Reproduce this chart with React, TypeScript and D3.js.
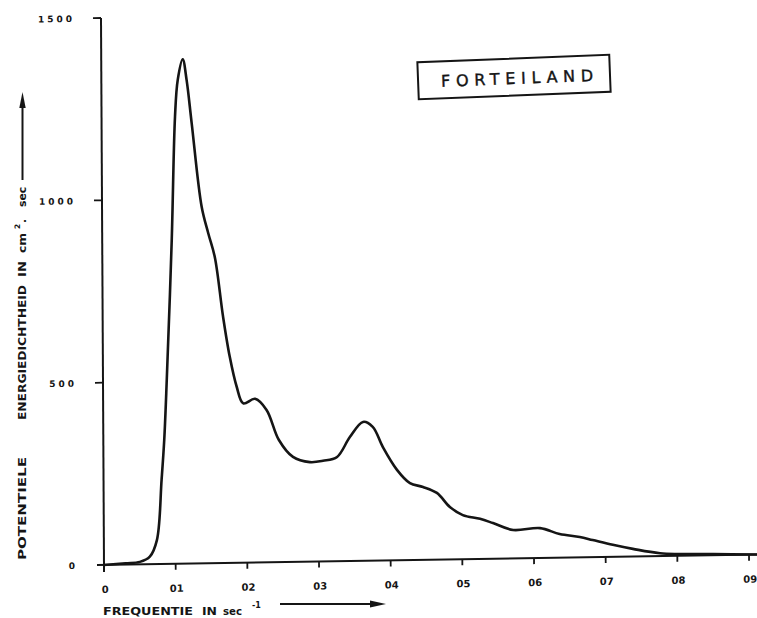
import React, { useEffect, useRef } from "react";
import * as d3 from "d3";

// spectrum: frequency (1/s) and potential energy density (cm2.s)
const freq = [
  0, 0.03, 0.05, 0.064, 0.074, 0.081, 0.085, 0.089, 0.097, 0.1025, 0.1066, 0.1137, 0.119,
  0.1257, 0.139, 0.148, 0.157, 0.168, 0.177, 0.1865, 0.1956, 0.212, 0.228, 0.245, 0.2645,
  0.288, 0.3064, 0.326, 0.344, 0.3625, 0.376, 0.39, 0.4095, 0.4275, 0.4457, 0.465,
  0.483, 0.501, 0.525, 0.543, 0.571, 0.6086, 0.636, 0.664, 0.682, 0.71, 0.738,
  0.776, 0.85, 0.915,
];
const energy = [
  0, 4, 7, 21, 66, 231, 340, 505, 888, 1226, 1327, 1383, 1326,
  1208, 978, 905, 839, 676, 566, 483, 437, 449, 418, 335, 288,
  273, 276, 286, 340, 381, 367, 311, 248, 211, 200, 183,
  144, 121, 110, 98, 78, 82, 65, 56, 47, 33, 21,
  8, 3, 0,
];

const xTickValues = [0, 0.1, 0.2, 0.3, 0.4, 0.5, 0.6, 0.7, 0.8, 0.9];
const xTickLabels = ["0", "01", "02", "03", "04", "05", "06", "07", "08", "09"];
const yTickValues = [0, 500, 1000, 1500];
const yTickLabels = ["0", "500", "1000", "1500"];
const stationName = "FORTEILAND";

const INK = "#151515";
const FONT = "'DejaVu Sans', sans-serif";

export default function App() {
  const ref = useRef<SVGSVGElement | null>(null);

  useEffect(() => {
    const svg = d3.select(ref.current);
    svg.selectAll("*").remove();

    const x = d3.scaleLinear().domain([0, 0.9]).range([0, 645]);
    const y = d3.scaleLinear().domain([0, 1500]).range([0, -547]);

    // the scan is a bit skewed, so the plot frame is too
    const g = svg.append("g").attr("transform", "matrix(1,-0.016,0.0055,1,104,565)");

    g.append("line")
      .attr("x1", -7).attr("x2", x(0.915)).attr("y1", 0).attr("y2", 0)
      .attr("stroke", INK).attr("stroke-width", 2);
    g.append("line")
      .attr("x1", 0).attr("x2", 0).attr("y1", 7).attr("y2", y(1500))
      .attr("stroke", INK).attr("stroke-width", 2);

    g.selectAll(".ytick")
      .data(yTickValues.filter((v) => v > 0))
      .join("line")
      .attr("x1", -8).attr("x2", 0)
      .attr("y1", (d) => y(d)).attr("y2", (d) => y(d))
      .attr("stroke", INK).attr("stroke-width", 1.8);

    g.selectAll(".xtick")
      .data(xTickValues.filter((v) => v > 0))
      .join("line")
      .attr("x1", (d) => x(d)).attr("x2", (d) => x(d))
      .attr("y1", 0).attr("y2", 6)
      .attr("stroke", INK).attr("stroke-width", 1.8);

    g.selectAll(".xlab")
      .data(xTickValues)
      .join("text")
      .attr("x", (d) => x(d) + 1)
      .attr("y", 28)
      .attr("text-anchor", "middle")
      .attr("font-family", FONT)
      .attr("font-weight", "bold")
      .attr("font-size", 10)
      .attr("fill", INK)
      .text((d, i) => xTickLabels[i]);

    g.selectAll(".ylab")
      .data(yTickValues)
      .join("text")
      .attr("x", -26)
      .attr("y", (d) => y(d) + 3.5)
      .attr("text-anchor", "end")
      .attr("font-family", FONT)
      .attr("font-weight", "bold")
      .attr("font-size", 9)
      .attr("letter-spacing", 3)
      .attr("fill", INK)
      .text((d, i) => yTickLabels[i]);

    const line = d3
      .line<number>()
      .x((d, i) => x(freq[i]))
      .y((d) => y(d))
      .curve(d3.curveCatmullRom.alpha(0.5));

    g.append("path")
      .attr("d", line(energy))
      .attr("fill", "none")
      .attr("stroke", INK)
      .attr("stroke-width", 2.6)
      .attr("stroke-linejoin", "round")
      .attr("stroke-linecap", "round");

    // y axis title, word by word (start y, end y on screen)
    const yWords: [string, number, number][] = [
      ["POTENTIELE", 560, 457],
      ["ENERGIEDICHTHEID", 420, 285],
      ["IN", 277, 261],
      ["cm", 253, 233],
      [".", 223, 219],
      ["sec", 207, 187],
    ];
    yWords.forEach(([t, y0, y1]) => {
      svg.append("text")
        .attr("transform", `translate(25.5,${y0}) rotate(-90)`)
        .attr("font-family", FONT)
        .attr("font-weight", "bold")
        .attr("font-size", 11)
        .attr("fill", INK)
        .attr("textLength", y0 - y1)
        .attr("lengthAdjust", "spacingAndGlyphs")
        .text(t);
    });
    svg.append("text")
      .attr("transform", "translate(19.5,229) rotate(-90)")
      .attr("font-family", FONT)
      .attr("font-weight", "bold")
      .attr("font-size", 7.5)
      .attr("fill", INK)
      .text("2");
    svg.append("line")
      .attr("x1", 22.5).attr("x2", 22.5).attr("y1", 180).attr("y2", 104)
      .attr("stroke", INK).attr("stroke-width", 2);
    svg.append("path")
      .attr("d", "M22.5,92 L19.3,108 L25.7,108 Z")
      .attr("fill", INK);

    // x axis title
    const xWords: [string, number, number][] = [
      ["FREQUENTIE", 103, 193],
      ["IN", 202, 217],
      ["sec", 223, 242],
    ];
    xWords.forEach(([t, x0, x1]) => {
      svg.append("text")
        .attr("x", x0).attr("y", 615)
        .attr("font-family", FONT)
        .attr("font-weight", "bold")
        .attr("font-size", 10)
        .attr("fill", INK)
        .attr("textLength", x1 - x0)
        .attr("lengthAdjust", "spacingAndGlyphs")
        .text(t);
    });
    svg.append("text")
      .attr("x", 252).attr("y", 608)
      .attr("font-family", FONT)
      .attr("font-weight", "bold")
      .attr("font-size", 8)
      .attr("fill", INK)
      .text("-1");
    svg.append("line")
      .attr("x1", 280).attr("x2", 372).attr("y1", 604).attr("y2", 604)
      .attr("stroke", INK).attr("stroke-width", 2);
    svg.append("path")
      .attr("d", "M386,604 L370,600.5 L370,607.5 Z")
      .attr("fill", INK);

    // station label box
    const box = svg.append("g").attr("transform", "rotate(-2.2,514,77)");
    box.append("rect")
      .attr("x", 418).attr("y", 58.5).attr("width", 192).attr("height", 37)
      .attr("fill", "none").attr("stroke", INK).attr("stroke-width", 2);
    box.append("text")
      .attr("x", 441).attr("y", 84)
      .attr("font-family", FONT)
      .attr("font-size", 16)
      .attr("fill", INK)
      .attr("stroke", INK)
      .attr("stroke-width", 0.4)
      .attr("textLength", 152)
      .attr("lengthAdjust", "spacing")
      .text(stationName);
  }, []);

  return (
    <svg
      ref={ref}
      width={757}
      height={618}
      style={{ position: "absolute", left: 0, top: 0, background: "#fff" }}
    />
  );
}
